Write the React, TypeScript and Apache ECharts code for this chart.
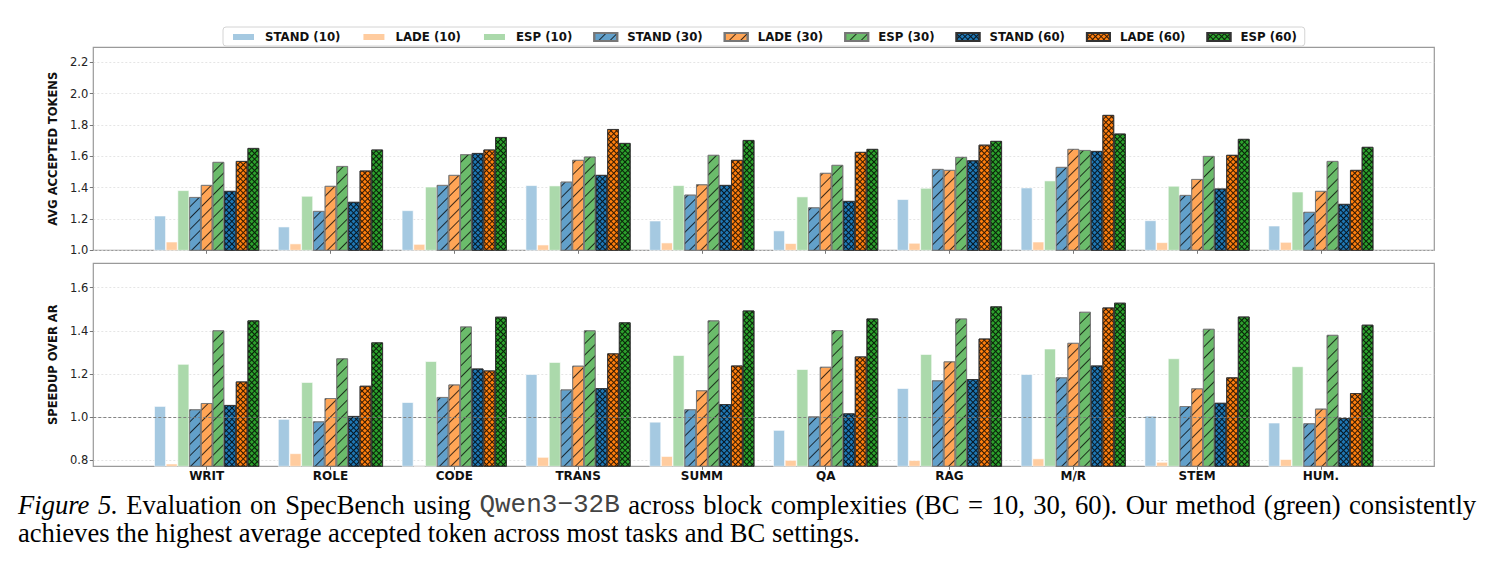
import React, { useEffect, useRef } from 'react';
import * as echarts from 'echarts';

const categories = ['WRIT', 'ROLE', 'CODE', 'TRANS', 'SUMM', 'QA', 'RAG', 'M/R', 'STEM', 'HUM.'];
const seriesNames = ['STAND (10)', 'LADE (10)', 'ESP (10)', 'STAND (30)', 'LADE (30)', 'ESP (30)', 'STAND (60)', 'LADE (60)', 'ESP (60)'];

// Top panel: average accepted tokens
const accStand10 = [1.221, 1.151, 1.255, 1.415, 1.189, 1.126, 1.326, 1.400, 1.191, 1.157];
const accLade10 = [1.055, 1.043, 1.040, 1.036, 1.049, 1.045, 1.047, 1.055, 1.051, 1.053];
const accEsp10 = [1.383, 1.347, 1.406, 1.413, 1.415, 1.343, 1.398, 1.445, 1.411, 1.374];
const accStand30 = [1.340, 1.251, 1.417, 1.438, 1.355, 1.274, 1.519, 1.532, 1.353, 1.245];
const accLade30 = [1.417, 1.411, 1.481, 1.577, 1.421, 1.494, 1.513, 1.647, 1.455, 1.379];
const accEsp30 = [1.564, 1.538, 1.613, 1.598, 1.609, 1.545, 1.596, 1.640, 1.602, 1.570];
const accStand60 = [1.379, 1.309, 1.621, 1.481, 1.417, 1.315, 1.574, 1.634, 1.394, 1.296];
const accLade60 = [1.570, 1.509, 1.643, 1.774, 1.577, 1.628, 1.674, 1.864, 1.609, 1.513];
const accEsp60 = [1.653, 1.643, 1.723, 1.685, 1.704, 1.647, 1.698, 1.745, 1.711, 1.660];

// Bottom panel: speedup over AR
const spdStand10 = [1.051, 0.991, 1.069, 1.199, 0.978, 0.940, 1.134, 1.199, 1.006, 0.974];
const spdLade10 = [0.784, 0.832, 0.774, 0.815, 0.819, 0.801, 0.800, 0.808, 0.792, 0.805];
const spdEsp10 = [1.246, 1.162, 1.259, 1.255, 1.287, 1.222, 1.292, 1.317, 1.272, 1.235];
const spdStand30 = [1.036, 0.980, 1.093, 1.128, 1.036, 1.003, 1.170, 1.184, 1.051, 0.971];
const spdLade30 = [1.065, 1.088, 1.151, 1.238, 1.124, 1.233, 1.258, 1.344, 1.133, 1.039];
const spdEsp30 = [1.402, 1.272, 1.420, 1.402, 1.448, 1.403, 1.457, 1.488, 1.409, 1.381];
const spdStand60 = [1.056, 1.005, 1.225, 1.134, 1.060, 1.017, 1.176, 1.239, 1.066, 0.995];
const spdLade60 = [1.165, 1.145, 1.216, 1.295, 1.239, 1.281, 1.364, 1.508, 1.184, 1.111];
const spdEsp60 = [1.448, 1.346, 1.465, 1.439, 1.494, 1.457, 1.513, 1.530, 1.466, 1.428];

const topTicks = [1.0, 1.2, 1.4, 1.6, 1.8, 2.0, 2.2];
const bottomTicks = [0.8, 1.0, 1.2, 1.4, 1.6];

const captionLine1 = ['{i|Figure}', '{i|5.}', 'Evaluation', 'on', 'SpecBench', 'using', '{m|Qwen3−32B}', 'across', 'block', 'complexities', '(BC', '=', '10,', '30,', '60).', 'Our', 'method', '(green)', 'consistently'];
const captionLine2 = 'achieves the highest average accepted token across most tasks and BC settings.';

const accData = [accStand10, accLade10, accEsp10, accStand30, accLade30, accEsp30, accStand60, accLade60, accEsp60];
const spdData = [spdStand10, spdLade10, spdEsp10, spdStand30, spdLade30, spdEsp30, spdStand60, spdLade60, spdEsp60];

const colors = ['#a5c9e1', '#ffcc9f', '#abd9ab', '#62a0ca', '#ffa556', '#6bbc6b', '#1f77b4', '#ff7f0e', '#2ca02c'];

const FONT = 'DejaVu Sans';

const slashDecal = {
  symbol: 'rect',
  symbolSize: 1,
  symbolKeepAspect: false,
  color: 'rgba(0,0,0,0.75)',
  dashArrayX: [[8, 0]],
  dashArrayY: [1, 7],
  rotation: -Math.PI / 4,
};
const crossDecal = {
  symbol: 'rect',
  symbolSize: 1,
  symbolKeepAspect: false,
  color: 'rgba(0,0,0,0.8)',
  dashArrayX: [[4, 0], [1, 3]],
  dashArrayY: [1, 0, 3, 0],
  rotation: Math.PI / 4,
};

function itemStyleFor(i: number) {
  const level = Math.floor(i / 3);
  if (level === 0) return { color: colors[i], borderColor: '#ffffff', borderWidth: 0.6 };
  if (level === 1) return { color: colors[i], borderColor: '#777777', borderWidth: 0.8, decal: slashDecal };
  return { color: colors[i], borderColor: '#333333', borderWidth: 0.8, decal: crossDecal };
}

const PLOT_LEFT = 93.3;
const PLOT_W = 1341;
const BAR_LEFT = 144.8;
const BAR_W = 1238;
const TOP_T = 47.3;
const TOP_H = 203;
const BOT_T = 263.3;
const BOT_H = 203;
const TOP_MIN = 1.0;
const TOP_MAX = 2.296;
const BOT_MIN = 0.772;
const BOT_MAX = 1.713;

export default function App() {
  const ref = useRef<HTMLDivElement>(null);
  useEffect(() => {
    if (!ref.current) return;
    const chart = echarts.init(ref.current, undefined, { renderer: 'svg' });

    const frameY = (min: number, max: number, ticks: number[], name: string) => ({
      type: 'value',
      min,
      max,
      name,
      nameLocation: 'middle',
      nameGap: 21,
      nameRotate: 90,
      nameTextStyle: { fontFamily: FONT, fontWeight: 'bold', fontSize: 11.5, color: '#111' },
      axisLine: { show: false },
      axisTick: { show: true, length: 3.5, lineStyle: { color: '#555', width: 0.8 }, customValues: ticks },
      axisLabel: {
        fontFamily: FONT,
        fontSize: 11.5,
        color: '#222',
        margin: 5,
        customValues: ticks,
        formatter: (v: number) => v.toFixed(1),
      },
      splitLine: { show: true, lineStyle: { color: '#dedede', width: 0.8, type: [2, 2] } },
    });

    const series: any[] = [];
    seriesNames.forEach((name, i) => {
      series.push({
        type: 'bar',
        name,
        xAxisIndex: 1,
        yAxisIndex: 1,
        data: accData[i],
        barGap: '0%',
        barCategoryGap: '15.2%',
        itemStyle: itemStyleFor(i),
        emphasis: { disabled: true },
      });
    });
    seriesNames.forEach((name, i) => {
      series.push({
        type: 'bar',
        name,
        xAxisIndex: 3,
        yAxisIndex: 3,
        data: spdData[i],
        barGap: '0%',
        barCategoryGap: '15.2%',
        itemStyle: itemStyleFor(i),
        emphasis: { disabled: true },
      });
    });
    series.push({
      type: 'line',
      name: 'ref',
      xAxisIndex: 2,
      yAxisIndex: 2,
      data: [],
      silent: true,
      markLine: {
        silent: true,
        symbol: 'none',
        label: { show: false },
        lineStyle: { color: '#777', width: 0.9, type: [3, 2] },
        data: [{ yAxis: 1.0 }],
      },
    });

    const captionText = captionLine1.join('{s| }') + '\n' + captionLine2;

    const option: any = {
      animation: false,
      textStyle: { fontFamily: FONT },
      legend: {
        data: seriesNames,
        left: 223,
        top: 27,
        padding: [4, 8, 3, 8],
        itemGap: 21,
        itemWidth: 23,
        itemHeight: 8,
        icon: 'rect',
        backgroundColor: '#ffffff',
        borderColor: '#d4d4d4',
        borderWidth: 1,
        borderRadius: 3,
        textStyle: { fontFamily: FONT, fontWeight: 'bold', fontSize: 11.75, color: '#111', padding: [0, 0, 0, 5] },
        selectedMode: false,
      },
      grid: [
        { left: PLOT_LEFT, top: TOP_T, width: PLOT_W, height: TOP_H, show: true, borderColor: '#9a9a9a', borderWidth: 1.2, backgroundColor: 'transparent' },
        { left: BAR_LEFT, top: TOP_T, width: BAR_W, height: TOP_H },
        { left: PLOT_LEFT, top: BOT_T, width: PLOT_W, height: BOT_H, show: true, borderColor: '#9a9a9a', borderWidth: 1.2, backgroundColor: 'transparent' },
        { left: BAR_LEFT, top: BOT_T, width: BAR_W, height: BOT_H },
      ],
      xAxis: [
        { type: 'value', gridIndex: 0, min: 0, max: 1, show: false },
        {
          type: 'category',
          gridIndex: 1,
          data: categories,
          axisLine: { show: false },
          axisTick: { show: true, alignWithLabel: true, length: 3.5, lineStyle: { color: '#555', width: 0.8 } },
          axisLabel: { show: false },
        },
        { type: 'value', gridIndex: 2, min: 0, max: 1, show: false },
        {
          type: 'category',
          gridIndex: 3,
          data: categories,
          axisLine: { show: false },
          axisTick: { show: true, alignWithLabel: true, length: 3.5, lineStyle: { color: '#555', width: 0.8 } },
          axisLabel: { show: true, fontFamily: FONT, fontWeight: 'bold', fontSize: 12, color: '#111', margin: 4 },
        },
      ],
      yAxis: [
        { gridIndex: 0, ...frameY(TOP_MIN, TOP_MAX, topTicks, 'AVG ACCEPTED TOKENS') },
        { type: 'value', gridIndex: 1, min: TOP_MIN, max: TOP_MAX, show: false, splitLine: { show: false } },
        { gridIndex: 2, ...frameY(BOT_MIN, BOT_MAX, bottomTicks, 'SPEEDUP OVER AR') },
        { type: 'value', gridIndex: 3, min: BOT_MIN, max: BOT_MAX, show: false, splitLine: { show: false } },
      ],
      series,
      graphic: [
        {
          type: 'text',
          left: 18,
          top: 491,
          silent: true,
          style: {
            text: captionText,
            fontFamily: 'Liberation Serif',
            fontSize: 26.6,
            lineHeight: 28,
            fill: '#000',
            rich: {
              i: { fontFamily: 'Liberation Serif', fontStyle: 'italic', fontSize: 26.6, fill: '#000', lineHeight: 28 },
              m: { fontFamily: 'Liberation Mono', fontSize: 26, fill: '#444', lineHeight: 28 },
              s: { fontFamily: 'Liberation Serif', fontSize: 26.6, width: 8.5, lineHeight: 28 },
            },
          },
        },
      ],
    };
    chart.setOption(option);
    return () => chart.dispose();
  }, []);
  return <div ref={ref} style={{ position: 'fixed', left: 0, top: 0, width: 1492, height: 564, background: '#fff' }} />;
}
